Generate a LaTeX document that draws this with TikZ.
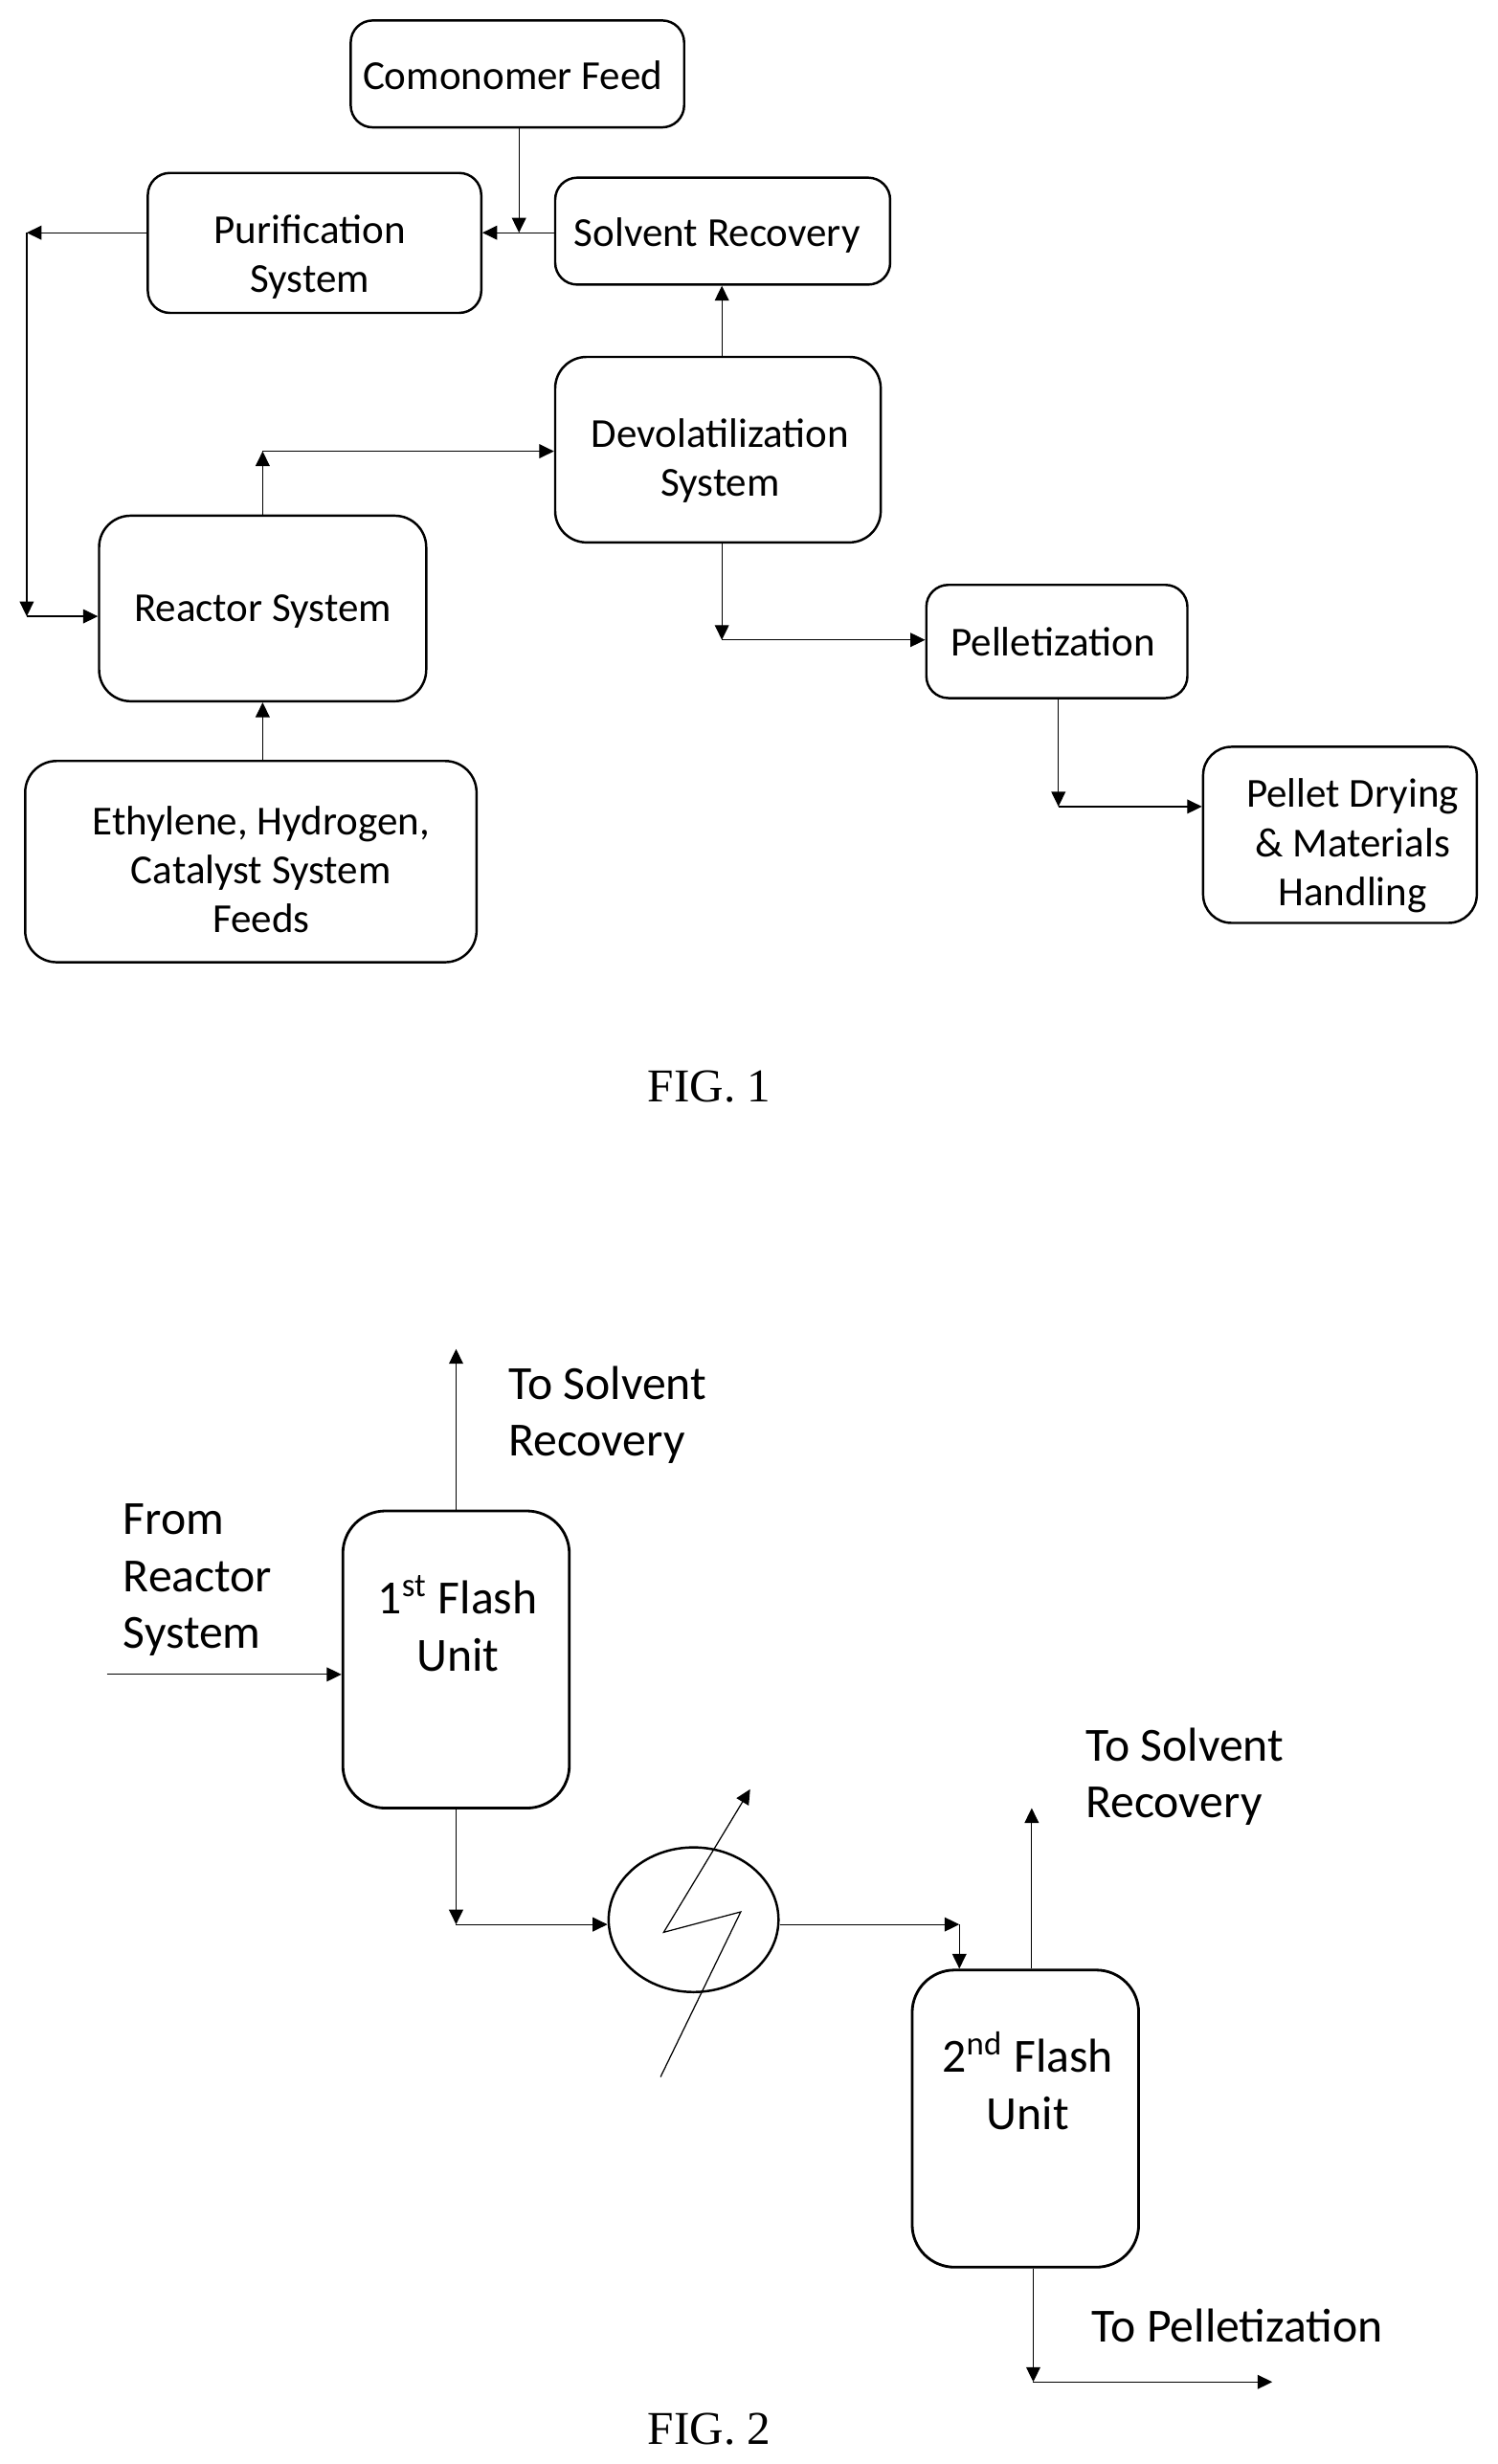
\documentclass[tikz,border=0pt]{standalone}
\usepackage{fontspec}
\setmainfont{Carlito}
\newfontfamily\figfont{Liberation Serif}
\usetikzlibrary{shapes.geometric,arrows.meta}
\def\ux{0.01643cm}

\begin{document}
\begin{tikzpicture}[x=\ux,y=-\ux,
  procbox/.style={rectangle,draw,line width=0.7pt,rounded corners=14*\ux,inner sep=0pt},
  flashbox/.style={rectangle,draw,line width=0.8pt,rounded corners=27*\ux,minimum width=144*\ux,minimum height=189*\ux},
  boxtext/.style={inner sep=0pt,align=center,font=\fontsize{12.25}{14.6}\selectfont},
  flashtext/.style={inner sep=0pt,align=center,font=\fontsize{14.15}{17}\selectfont},
  bigtext/.style={inner sep=0pt,align=left,anchor=west,font=\fontsize{14.15}{17}\selectfont},
  figtext/.style={inner sep=0pt,font=\fontsize{14}{16}\figfont},
  flow/.style={line width=0.35pt,-{Triangle[length=4.4pt,width=4.2pt]}}]
  \useasboundingbox (0,0) rectangle (951.9,1567.2);

% boxes of fig 1
  \node [procbox, minimum width=212*\ux, minimum height=68*\ux] (comonomer) at (329,47) {};
  \node [boxtext] (comonomertext) at (326,48) {Comonomer Feed};
  \node [procbox, minimum width=212*\ux, minimum height=89*\ux] (purif) at (200,154.5) {};
  \node [boxtext] (puriftext) at (197,163.5) {Purification\\System};
  \node [procbox, minimum width=213*\ux, minimum height=68*\ux] (solvent) at (459.5,147) {};
  \node [boxtext] (solventtext) at (456,150) {Solvent Recovery};
  \node [procbox, rounded corners=20*\ux, minimum width=207*\ux, minimum height=118*\ux] (devol) at (456.5,286) {};
  \node [boxtext] (devoltext) at (458,293) {Devolatilization\\System};
  \node [procbox, rounded corners=20*\ux, minimum width=208*\ux, minimum height=118*\ux] (reactor) at (167,387) {};
  \node [boxtext] (reactortext) at (167,389) {Reactor System};
  \node [procbox, rounded corners=20*\ux, minimum width=287*\ux, minimum height=128*\ux] (feeds) at (159.5,548) {};
  \node [boxtext] (feedstext) at (166,553) {Ethylene, Hydrogen,\\Catalyst System\\Feeds};
  \node [procbox, minimum width=166*\ux, minimum height=72*\ux] (pellet) at (672,408) {};
  \node [boxtext] (pellettext) at (669.5,408) {Pelletization};
  \node [procbox, rounded corners=18*\ux, minimum width=174*\ux, minimum height=112*\ux] (drying) at (852,531) {};
  \node [boxtext] (dryingtext) at (860,538) {Pellet Drying\\\& Materials\\Handling};
  \node [figtext] (fig1) at (451,691) {FIG. 1};

% corner points of fig 1
  \coordinate (comonomerend) at (330,148);
  \coordinate (recycletop) at (17,148);
  \coordinate (recyclelow) at (17,392);
  \coordinate (reactorup) at (167,287);
  \coordinate (devoldown) at (459,407);
  \coordinate (pelletdown) at (673,513);

  \draw [flow] (comonomer.south -| comonomerend) -- (comonomerend);
  \draw [flow] (solvent.west |- comonomerend) -- (purif.east |- comonomerend);
  \draw [flow] (purif.west |- recycletop) -- (recycletop);
  \draw [flow] (recycletop) -- (recyclelow);
  \draw [flow] (recyclelow) -- (reactor.west |- recyclelow);
  \draw [flow] (reactor.north) -- (reactorup);
  \draw [flow] (reactorup) -- (devol.west |- reactorup);
  \draw [flow] (devol.north -| devoldown) -- (solvent.south -| devoldown);
  \draw [flow] (devol.south -| devoldown) -- (devoldown);
  \draw [flow] (devoldown) -- (pellet.west |- devoldown);
  \draw [flow] (pellet.south -| pelletdown) -- (pelletdown);
  \draw [flow] (pelletdown) -- (drying.west |- pelletdown);
  \draw [flow] (feeds.north -| reactor.south) -- (reactor.south);

% fig 2
  \node [flashbox] (flash1) at (290,1055.5) {};
  \node [flashtext] (flash1text) at (291,1032.5) {1\textsuperscript{st} Flash\\Unit};
  \node [flashbox] (flash2) at (652,1347.5) {};
  \node [flashtext] (flash2text) at (653.5,1323.5) {2\textsuperscript{nd} Flash\\Unit};
  \node [ellipse, draw, line width=0.7pt, inner sep=0pt, minimum width=108*\ux, minimum height=92*\ux] (exchanger) at (441,1221) {};
  \node [bigtext] (solvent1) at (323,900) {To Solvent\\Recovery};
  \node [bigtext] (solvent2) at (690,1130) {To Solvent\\Recovery};
  \node [bigtext] (from) at (78,1005) {From\\Reactor\\System};
  \node [bigtext] (topellet) at (694,1479) {To Pelletization};
  \node [figtext] (fig2) at (451,1545) {FIG. 2};

  \coordinate (vapour1) at (290,858);
  \coordinate (feedin) at (68,1065);
  \coordinate (flash1down) at (290,1224);
  \coordinate (flash2in) at (610,1224);
  \coordinate (vapour2) at (656,1150);
  \coordinate (flash2down) at (657,1515);
  \coordinate (pelletout) at (809,1515);
  \coordinate (coolin) at (420,1321);
  \coordinate (coolmid) at (471,1216);
  \coordinate (coolback) at (422,1229);
  \coordinate (coolout) at (477,1138);

  \draw [flow] (flash1.north -| vapour1) -- (vapour1);
  \draw [flow] (feedin) -- (flash1.west |- feedin);
  \draw [flow] (flash1.south -| flash1down) -- (flash1down);
  \draw [flow] (flash1down) -- (exchanger.west |- flash1down);
  \draw [flow] (exchanger.east |- flash2in) -- (flash2in);
  \draw [flow] (flash2in) -- (flash2.north -| flash2in);
  \draw [flow] (flash2.north -| vapour2) -- (vapour2);
  \draw [flow] (flash2.south -| flash2down) -- (flash2down);
  \draw [flow] (flash2down) -- (pelletout);
  \draw [flow] (coolin) -- (coolmid) -- (coolback) -- (coolout);

\end{tikzpicture}
\end{document}
